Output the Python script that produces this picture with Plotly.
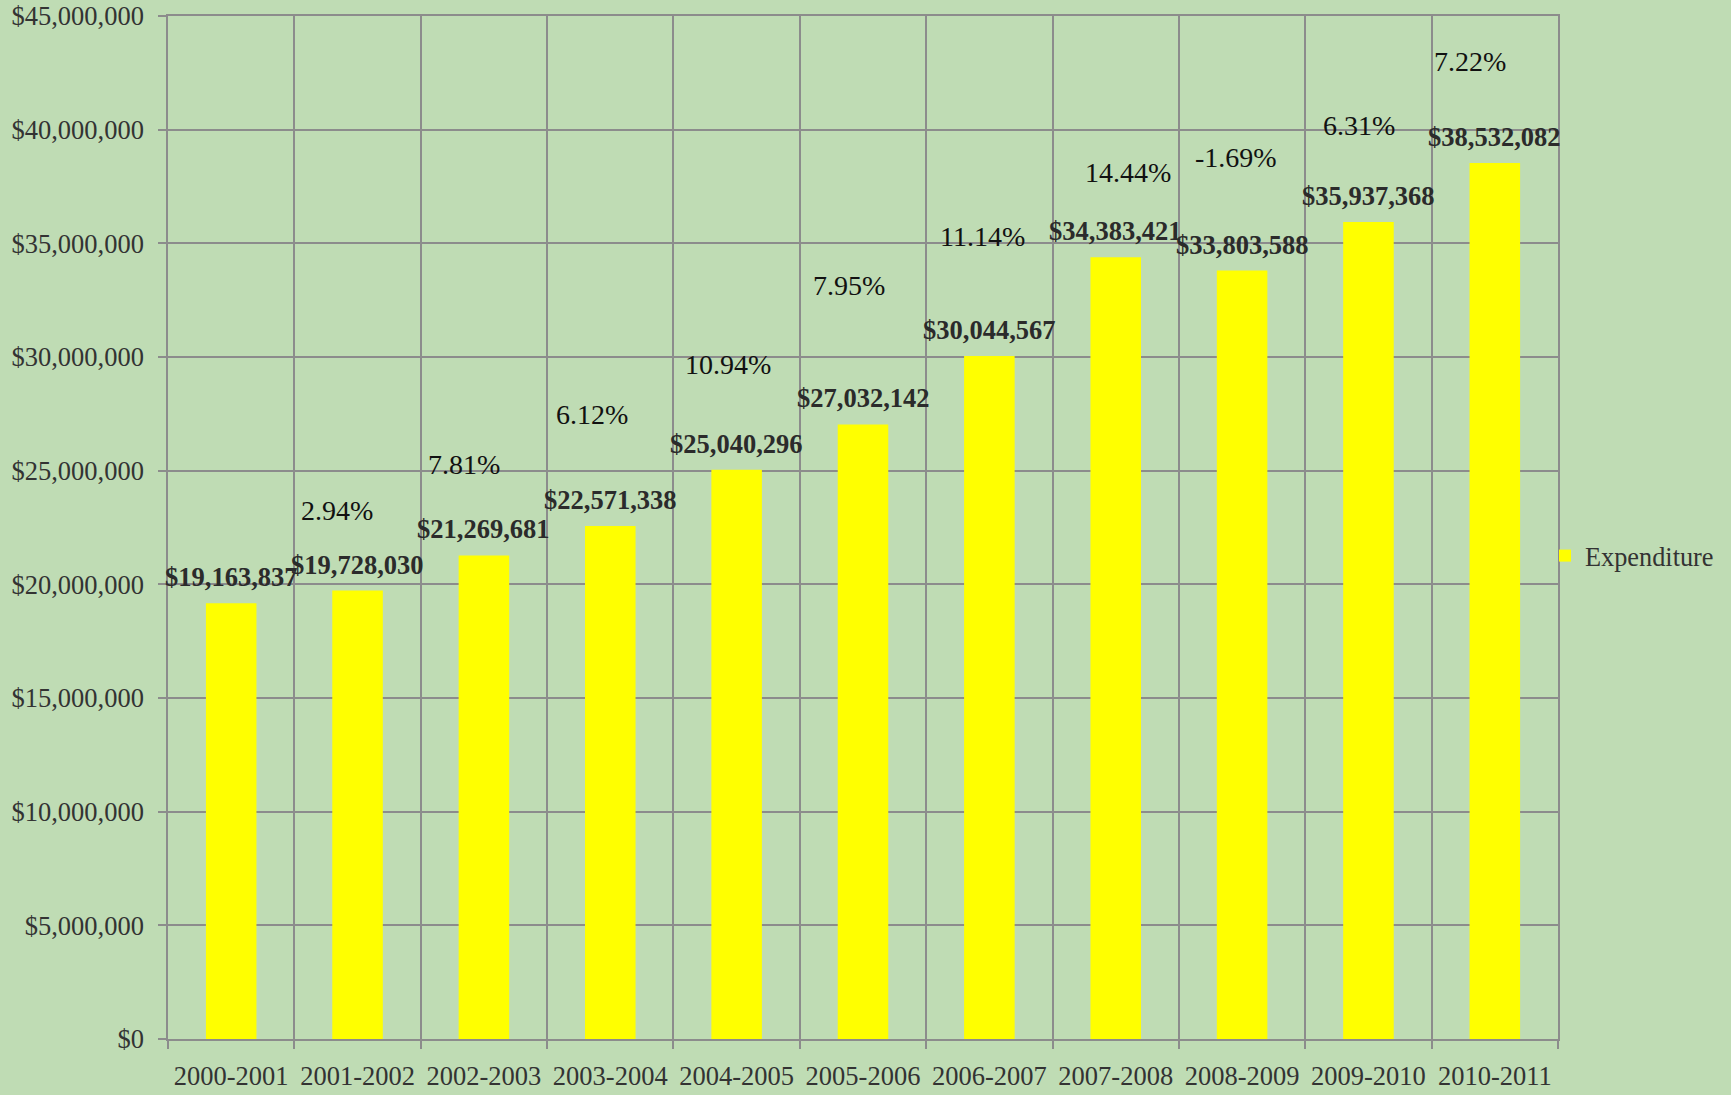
import plotly.graph_objects as go

years = ["2000-2001", "2001-2002", "2002-2003", "2003-2004", "2004-2005", "2005-2006",
         "2006-2007", "2007-2008", "2008-2009", "2009-2010", "2010-2011"]
expenditure = [19163837, 19728030, 21269681, 22571338, 25040296, 27032142,
               30044567, 34383421, 33803588, 35937368, 38532082]
growth_labels = ["2.94%", "7.81%", "6.12%", "10.94%", "7.95%", "11.14%",
                 "14.44%", "-1.69%", "6.31%", "7.22%"]
# manual placement offsets for growth labels (pixels relative to bar top / bar centre)
growth_xshift = [-21, -20, -18, -9, -14, -7, 12, -6, -9, -25]
growth_yshift = [80, 91, 111, 105, 139, 119, 85, 113, 97, 102]

y_ticks = list(range(0, 45000001, 5000000))
y_ticktext = ["$" + format(v, ",") for v in y_ticks]

FONT = "Liberation Serif, Times New Roman, serif"
GRID = "#8c8c8c"

fig = go.Figure()
fig.add_trace(go.Bar(
    x=years, y=expenditure, name="Expenditure",
    marker=dict(color="#ffff00", line=dict(width=0)),
    width=0.40, showlegend=True,
))

annotations = []
for i, (yr, v) in enumerate(zip(years, expenditure)):
    annotations.append(dict(
        x=yr, y=v, xref="x", yref="y", text="<b>$" + format(v, ",") + "</b>",
        showarrow=False, yanchor="middle", yshift=26,
        font=dict(family=FONT, size=26.5, color="#2b2b2b"),
    ))
for i, lab in enumerate(growth_labels):
    annotations.append(dict(
        x=years[i + 1], y=expenditure[i + 1], xref="x", yref="y", text=lab,
        showarrow=False, yanchor="middle", yshift=growth_yshift[i],
        xshift=growth_xshift[i],
        font=dict(family=FONT, size=28, color="#111111"),
    ))

fig.update_layout(
    width=1731, height=1095,
    margin=dict(l=168, r=173, t=16, b=56, autoexpand=False),
    paper_bgcolor="#bfdcb4",
    plot_bgcolor="rgba(0,0,0,0)",
    font=dict(family=FONT, size=26.5, color="#333333"),
    bargap=0.60,
    annotations=annotations,
    legend=dict(x=1545 / 1731, xref="container", xanchor="left",
                y=(1095 - 556) / 1095, yref="container", yanchor="middle",
                bgcolor="rgba(0,0,0,0)", font=dict(family=FONT, size=26.3, color="#333333"),
                itemwidth=30),
)
fig.update_xaxes(
    type="category", tickson="boundaries", ticks="outside", ticklen=8,
    tickcolor=GRID, tickwidth=1.5, tickangle=0, automargin=False,
    range=[-0.5, len(years) - 0.5],
    showgrid=True, gridcolor=GRID, gridwidth=1.5,
    showline=True, linecolor=GRID, linewidth=1.5, mirror=True,
    ticklabelstandoff=12,
    tickfont=dict(family=FONT, size=26.5, color="#333333"),
)
fig.update_yaxes(
    range=[0, 45000000], tickvals=y_ticks, ticktext=y_ticktext,
    ticks="outside", ticklen=8, tickcolor=GRID, tickwidth=1.5, automargin=False,
    showgrid=True, gridcolor=GRID, gridwidth=1.5,
    showline=True, linecolor=GRID, linewidth=1.5, mirror=True,
    zeroline=False, ticklabelstandoff=9,
    tickfont=dict(family=FONT, size=26.5, color="#333333"),
)

fig.write_html("out.html", config={"displayModeBar": False},
               post_script="document.body.style.margin='0px';document.body.style.overflow='hidden';")
